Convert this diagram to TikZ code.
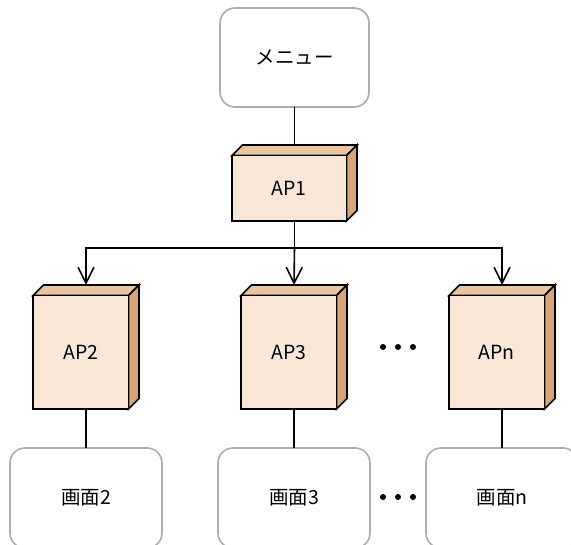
\documentclass[tikz,border=0pt]{standalone}
\usepackage{fontspec}
\setmainfont{Noto Sans CJK JP}
\usetikzlibrary{arrows.meta}

\definecolor{apfront}{RGB}{248,230,214}
\definecolor{aptop}{RGB}{233,197,160}
\definecolor{apside}{RGB}{213,166,120}
\definecolor{scrline}{RGB}{172,172,172}

\def\apd{10.5pt}

% bloque AP: nombre, centro, ancho, alto, texto
\newcommand{\apblock}[5]{%
  \node[apbody, minimum width=#3, minimum height=#4] (#1) at (#2) {};
  \draw[apline, fill=aptop] ([yshift=-\apd]#1.north west) -- ([xshift=\apd]#1.north west)
    -- (#1.north east) -- ([xshift=-\apd,yshift=-\apd]#1.north east) -- cycle;
  \draw[apline, fill=apside] ([xshift=-\apd,yshift=-\apd]#1.north east) -- (#1.north east)
    -- ([yshift=\apd]#1.south east) -- ([xshift=-\apd]#1.south east) -- cycle;
  \draw[apline, fill=apfront] (#1.south west) rectangle ([xshift=-\apd,yshift=-\apd]#1.north east);
  \node (#1-text) at ([xshift=-\apd/2,yshift=-\apd/2]#1.center) {#5};
}

\begin{document}
\begin{tikzpicture}[x=1pt, y=-1pt,
    font=\fontsize{19.5}{23}\selectfont,
    apbody/.style={inner sep=0pt, outer sep=0pt},
    apline/.style={line width=1.7pt, line join=miter},
    screen/.style={draw=scrline, line width=1.6pt, rounded corners=15pt, fill=white,
      inner sep=0pt, outer sep=0pt},
    conn/.style={line width=1.6pt},
    tip/.style={-{Straight Barb[length=16pt, width=16pt]}}]
  \useasboundingbox (0,0) rectangle (571,545);
  \clip (0,0) rectangle (571,545);

  % Menu
  \node[screen, minimum width=149pt, minimum height=99pt] (menu) at (294.5,57.5) {メニュー};

  % Bloques AP
  \apblock{ap1}{294.5,183}{125pt}{76pt}{AP1}
  \apblock{ap2}{86,347}{106pt}{124pt}{AP2}
  \apblock{ap3}{294,347}{106pt}{124pt}{AP3}
  \apblock{apn}{502,347}{106pt}{124pt}{APn}

  % Pantallas
  \node[screen, minimum width=152pt, minimum height=100pt] (scr2) at (86,498) {画面2};
  \node[screen, minimum width=152pt, minimum height=100pt] (scr3) at (294,498) {画面3};
  \node[screen, minimum width=152pt, minimum height=100pt] (scrn) at (502,498) {画面n};

  % Conexiones
  \draw[conn] (menu.south) -- (ap1.north);
  \draw[conn] (ap1.south) -- ++(0pt,-27pt) coordinate (fork);
  \draw[conn, tip] (fork) -| (ap2.north);
  \draw[conn, tip] (fork) -- (ap3.north);
  \draw[conn, tip] (fork) -| (apn.north);
  \draw[conn] (ap2.south) -- (scr2.north);
  \draw[conn] (ap3.south) -- (scr3.north);
  \draw[conn] (apn.south) -- (scrn.north);

  % Puntos
  \foreach \px in {383,398,413} {
    \fill (\px,347) circle (3pt);
    \fill (\px,497) circle (3pt);
  }
\end{tikzpicture}
\end{document}
